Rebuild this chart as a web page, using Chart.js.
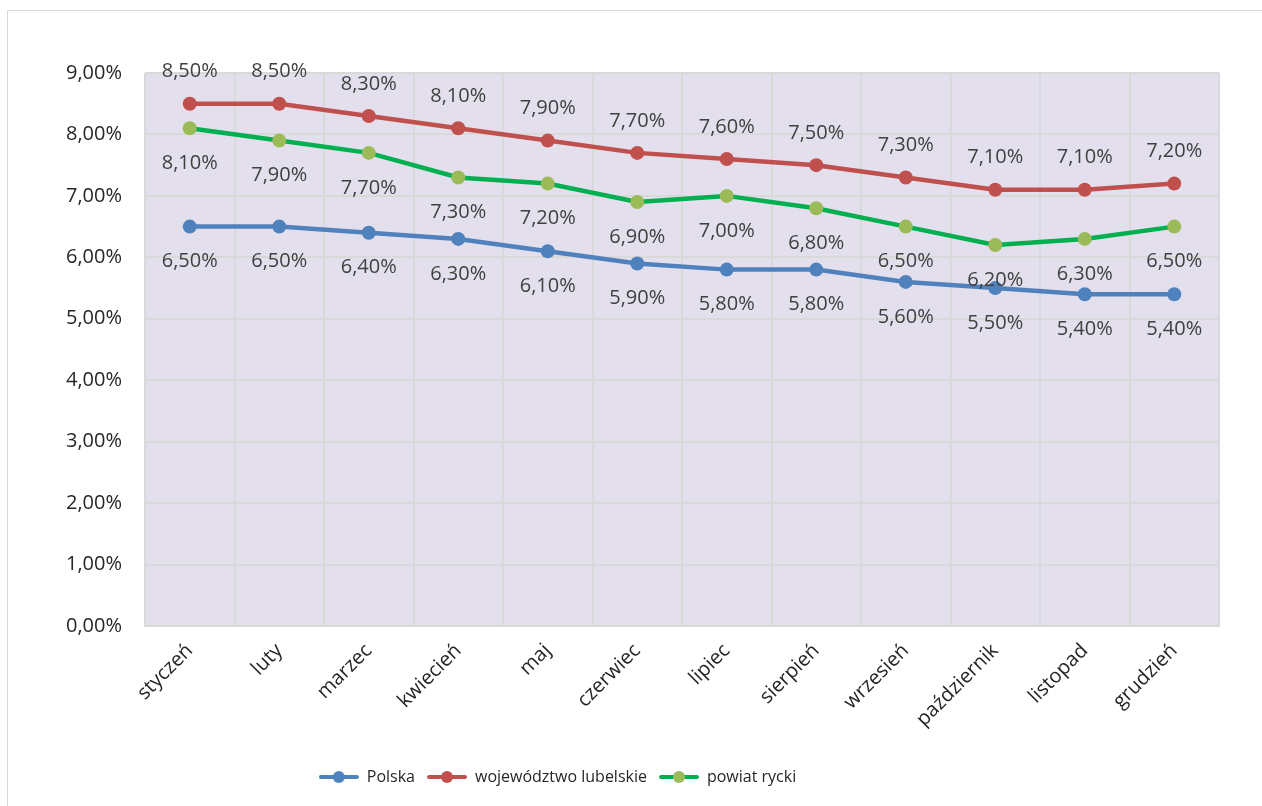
<!DOCTYPE html>
<html>
<head>
<meta charset="utf-8">
<script src="https://cdn.jsdelivr.net/npm/chart.js@4.4.1/dist/chart.umd.min.js"></script>
<style>
  body { margin: 0; background: #fff; }
  #wrap { position: relative; width: 1262px; height: 806px; overflow: hidden; }
  #frame { position: absolute; left: 7px; top: 10px; width: 1270px; height: 820px; border: 1px solid #d9d9d9; }
  canvas { position: absolute; left: 0; top: 0; }
</style>
</head>
<body>
<div id="wrap">
  <div id="frame"></div>
  <canvas id="chart" width="1262" height="806"></canvas>
</div>
<script>
const months = ['styczeń', 'luty', 'marzec', 'kwiecień', 'maj', 'czerwiec', 'lipiec', 'sierpień', 'wrzesień', 'październik', 'listopad', 'grudzień'];
const polska = [6.5, 6.5, 6.4, 6.3, 6.1, 5.9, 5.8, 5.8, 5.6, 5.5, 5.4, 5.4];
const lubelskie = [8.5, 8.5, 8.3, 8.1, 7.9, 7.7, 7.6, 7.5, 7.3, 7.1, 7.1, 7.2];
const rycki = [8.1, 7.9, 7.7, 7.3, 7.2, 6.9, 7.0, 6.8, 6.5, 6.2, 6.3, 6.5];
const yTicks = [0, 1, 2, 3, 4, 5, 6, 7, 8, 9];

const FONT = '"Open Sans", "Noto Sans", sans-serif';
const pct = v => v.toFixed(2).replace('.', ',') + '%';

// legend symbol: short line with a marker in the middle
function legendIcon(lineColor, dotColor) {
  const c = document.createElement('canvas');
  c.width = 40; c.height = 14;
  const g = c.getContext('2d');
  g.strokeStyle = lineColor;
  g.lineWidth = 4;
  g.lineCap = 'round';
  g.beginPath(); g.moveTo(2, 7); g.lineTo(38, 7); g.stroke();
  g.fillStyle = dotColor;
  g.beginPath(); g.arc(20, 7, 6, 0, Math.PI * 2); g.fill();
  return c;
}

const plotBg = {
  id: 'plotBg',
  beforeDraw(chart) {
    const { ctx, chartArea: a } = chart;
    ctx.save();
    ctx.fillStyle = '#e4dfec';
    ctx.fillRect(a.left, a.top, a.right - a.left, a.bottom - a.top);
    ctx.restore();
  }
};

// the legend sits a bit left of centre in the original
const legendShift = {
  id: 'legendShift',
  afterLayout(chart) {
    chart.legend.left -= 52;
    chart.legend.right -= 52;
  }
};

const valueLabels = {
  id: 'valueLabels',
  afterDatasetsDraw(chart) {
    const ctx = chart.ctx;
    ctx.save();
    ctx.font = '20px ' + FONT;
    ctx.fillStyle = '#404040';
    ctx.textAlign = 'center';
    ctx.textBaseline = 'middle';
    chart.data.datasets.forEach((ds, i) => {
      const meta = chart.getDatasetMeta(i);
      meta.data.forEach((pt, j) => {
        ctx.fillText(pct(ds.data[j]), pt.x, pt.y + ds.labelOffset);
      });
    });
    ctx.restore();
  }
};

new Chart(document.getElementById('chart'), {
  type: 'line',
  data: {
    labels: months,
    datasets: [
      {
        label: 'Polska', data: polska, labelOffset: 35,
        borderColor: '#4f81bd', backgroundColor: '#4f81bd',
        pointBackgroundColor: '#4f81bd', pointBorderColor: '#4f81bd',
        legendIcon: legendIcon('#4f81bd', '#4f81bd')
      },
      {
        label: 'województwo lubelskie', data: lubelskie, labelOffset: -32,
        borderColor: '#c0504d', backgroundColor: '#c0504d',
        pointBackgroundColor: '#c0504d', pointBorderColor: '#c0504d',
        legendIcon: legendIcon('#c0504d', '#c0504d')
      },
      {
        label: 'powiat rycki', data: rycki, labelOffset: 35,
        borderColor: '#00b050', backgroundColor: '#9bbb59',
        pointBackgroundColor: '#9bbb59', pointBorderColor: '#9bbb59',
        legendIcon: legendIcon('#00b050', '#9bbb59')
      }
    ]
  },
  options: {
    responsive: false,
    animation: false,
    layout: { padding: { left: 0, right: 43, top: 73, bottom: 11 } },
    elements: {
      line: { borderWidth: 4.5, tension: 0 },
      point: { radius: 7, borderWidth: 0, hoverRadius: 7 }
    },
    scales: {
      x: {
        offset: true,
        grid: { offset: true, color: '#d9d9d9', lineWidth: 2, drawTicks: false },
        border: { color: '#d9d9d9', width: 2 },
        ticks: {
          color: '#262626', font: { family: FONT, size: 20 },
          minRotation: 45, maxRotation: 45, padding: 13, autoSkip: false
        },
        afterFit(scale) { scale.height = 131; }
      },
      y: {
        min: 0, max: 9,
        afterBuildTicks(scale) { scale.ticks = yTicks.map(v => ({ value: v })); },
        grid: { color: '#d9d9d9', lineWidth: 2, drawTicks: false },
        border: { display: false },
        ticks: {
          color: '#262626', font: { family: FONT, size: 20 },
          padding: 23, callback: v => pct(v)
        },
        afterFit(scale) { scale.width = 145; }
      }
    },
    plugins: {
      tooltip: { enabled: false },
      legend: {
        position: 'bottom',
        labels: {
          color: '#262626',
          font: { family: FONT, size: 16 },
          usePointStyle: true,
          pointStyleWidth: 40,
          padding: 12,
          generateLabels(chart) {
            return chart.data.datasets.map((ds, i) => ({
              text: ds.label,
              pointStyle: ds.legendIcon,
              fillStyle: ds.borderColor,
              strokeStyle: ds.borderColor,
              lineWidth: 0,
              datasetIndex: i,
              hidden: false,
              fontColor: '#262626'
            }));
          }
        }
      }
    }
  },
  plugins: [plotBg, legendShift, valueLabels]
});
</script>
</body>
</html>
